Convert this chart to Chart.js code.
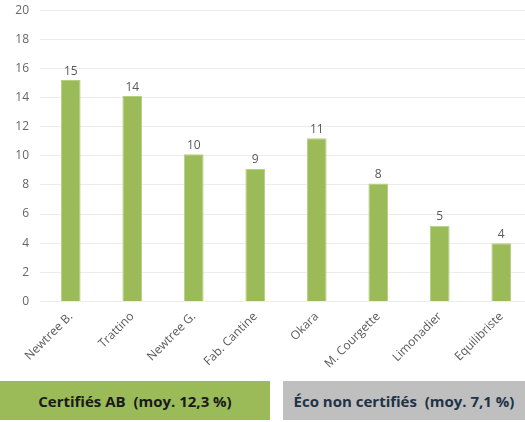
<!DOCTYPE html>
<html><head><meta charset="utf-8">
<script src="https://cdn.jsdelivr.net/npm/chart.js@4"></script>
<style>
html,body{margin:0;padding:0;background:#fff;overflow:hidden;width:525px;height:422px;position:relative;font-family:"Open Sans",sans-serif}
#wrap{position:absolute;left:0;top:0;width:532px;height:371px}
.box{position:absolute;top:381px;height:39px;display:flex;align-items:center;justify-content:center;font-weight:bold;font-size:15px}
#b1{left:0;width:270px;background:#9BBB59;color:#1a1a1a}
#b2{left:283px;width:242px;background:#BFBFBF;color:#1f3347}
</style></head><body>
<div id="wrap"><canvas id="c"></canvas></div>
<div class="box" id="b1">Certifiés AB&nbsp; (moy. 12,3 %)</div>
<div class="box" id="b2">Éco non certifiés&nbsp; (moy. 7,1 %)</div>
<script>
const categories = ["Newtree B.","Trattino","Newtree G.","Fab. Cantine","Okara","M. Courgette","Limonadier","Equilibriste"];
const values = [15.2, 14.1, 10.1, 9.1, 11.2, 8.1, 5.2, 4.0];
const valueLabels = ["15","14","10","9","11","8","5","4"];
const yTicks = [0,2,4,6,8,10,12,14,16,18,20];

const labelPlugin = {
  id:'vlabels',
  afterDatasetsDraw(chart){
    const ctx = chart.ctx;
    const meta = chart.getDatasetMeta(0);
    ctx.save();
    ctx.font = '12px "Open Sans", sans-serif';
    ctx.fillStyle = '#595959';
    ctx.textAlign = 'center';
    ctx.textBaseline = 'bottom';
    meta.data.forEach((el,i)=>{ ctx.fillText(valueLabels[i], el.x, el.y - 3); });
    ctx.restore();
  }
};

new Chart(document.getElementById('c'), {
  type:'bar',
  data:{labels:categories, datasets:[{data:values, backgroundColor:'#9BBB59', borderColor:'#b5cf83', borderWidth:1, categoryPercentage:1, barPercentage:0.32}]},
  options:{
    responsive:true, maintainAspectRatio:false, animation:false,
    layout:{padding:{top:-2,right:0,bottom:0,left:0}},
    plugins:{legend:{display:false}, tooltip:{enabled:false}},
    scales:{
      x:{grid:{display:false}, border:{display:false},
         ticks:{color:'#595959', font:{size:12, family:'"Open Sans", sans-serif'}, maxRotation:45, minRotation:45, padding:0}},
      y:{min:0,max:20, afterFit(s){s.width=40;},
         afterBuildTicks(s){s.ticks = yTicks.map(v=>({value:v}));},
         grid:{color:'#ececec', drawTicks:true, tickLength:8, tickColor:'rgba(0,0,0,0)'}, border:{display:false},
         ticks:{color:'#666666', font:{size:12, family:'"Open Sans", sans-serif'}, padding:3}}
    }
  },
  plugins:[labelPlugin]
});
</script>
</body></html>
